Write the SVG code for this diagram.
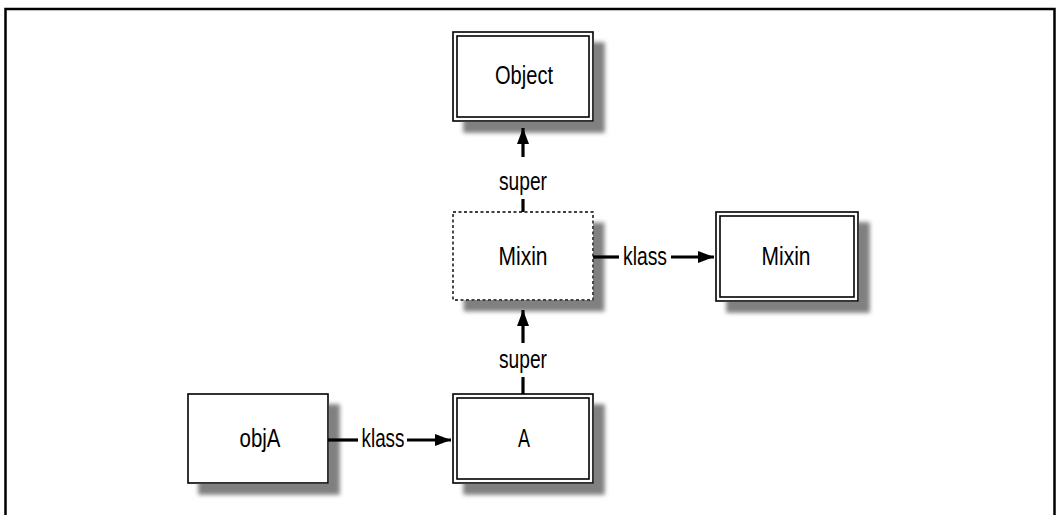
<svg xmlns="http://www.w3.org/2000/svg" width="1057" height="515" viewBox="0 0 1057 515">
<style>
.box{fill:#fff;stroke:#000;stroke-width:1.6}
.inner{fill:none;stroke:#000;stroke-width:1.6}
.dash{fill:#fff;stroke:#000;stroke-width:1.4;stroke-dasharray:3 2.5}
.lbl{font-family:"Liberation Sans","DejaVu Sans Condensed",sans-serif;font-size:25px;fill:#000;text-anchor:middle}
.conn{stroke:#000;stroke-width:3.2;fill:none}
</style>
<defs>
<filter id="sh" x="-10%" y="-10%" width="130%" height="140%">
<feDropShadow dx="11" dy="11" stdDeviation="2.2" flood-color="#808080" flood-opacity="1"/>
</filter>
<marker id="ah" viewBox="0 0 16 12" refX="16" refY="6" markerWidth="16" markerHeight="12" markerUnits="userSpaceOnUse" orient="auto">
<path d="M0,0 L16,6 L0,12 Z" fill="#000"/>
</marker>
</defs>
<rect width="1057" height="515" fill="#fff"/>
<path d="M5.5,515 V9 H1054.5 V515" fill="none" stroke="#000" stroke-width="2.5"/>
<g id="object">
<rect class="box" x="453" y="32" width="140" height="89" filter="url(#sh)"/>
<rect class="inner" x="457" y="36" width="132" height="81"/>
<text class="lbl" x="524" y="84" textLength="58" lengthAdjust="spacingAndGlyphs">Object</text>
</g>
<g id="mixin-ic">
<rect class="dash" x="453" y="212" width="140" height="88" filter="url(#sh)"/>
<text class="lbl" x="523" y="265" textLength="49" lengthAdjust="spacingAndGlyphs">Mixin</text>
</g>
<g id="mixin">
<rect class="box" x="716" y="212" width="142" height="89" filter="url(#sh)"/>
<rect class="inner" x="720" y="216" width="134" height="81"/>
<text class="lbl" x="786" y="265" textLength="49" lengthAdjust="spacingAndGlyphs">Mixin</text>
</g>
<g id="objA">
<rect class="box" x="188" y="394" width="140" height="89" filter="url(#sh)"/>
<text class="lbl" x="260" y="447" textLength="41" lengthAdjust="spacingAndGlyphs">objA</text>
</g>
<g id="A">
<rect class="box" x="453" y="394" width="140" height="89" filter="url(#sh)"/>
<rect class="inner" x="457" y="398" width="132" height="81"/>
<text class="lbl" x="524" y="447" textLength="12" lengthAdjust="spacingAndGlyphs">A</text>
</g>
<g id="connectors">
<line class="conn" x1="523" y1="212" x2="523" y2="199"/>
<line class="conn" x1="523" y1="157" x2="523" y2="128" marker-end="url(#ah)"/>
<text class="lbl" x="523" y="190" textLength="48" lengthAdjust="spacingAndGlyphs">super</text>
<line class="conn" x1="523" y1="394" x2="523" y2="377"/>
<line class="conn" x1="523" y1="343" x2="523" y2="310" marker-end="url(#ah)"/>
<text class="lbl" x="523" y="368" textLength="48" lengthAdjust="spacingAndGlyphs">super</text>
<line class="conn" x1="593" y1="257" x2="619" y2="257"/>
<line class="conn" x1="671" y1="257" x2="714" y2="257" marker-end="url(#ah)"/>
<text class="lbl" x="645" y="265" textLength="44" lengthAdjust="spacingAndGlyphs">klass</text>
<line class="conn" x1="328" y1="440" x2="358" y2="440"/>
<line class="conn" x1="407" y1="440" x2="451" y2="440" marker-end="url(#ah)"/>
<text class="lbl" x="383" y="447" textLength="43" lengthAdjust="spacingAndGlyphs">klass</text>
</g>
</svg>
